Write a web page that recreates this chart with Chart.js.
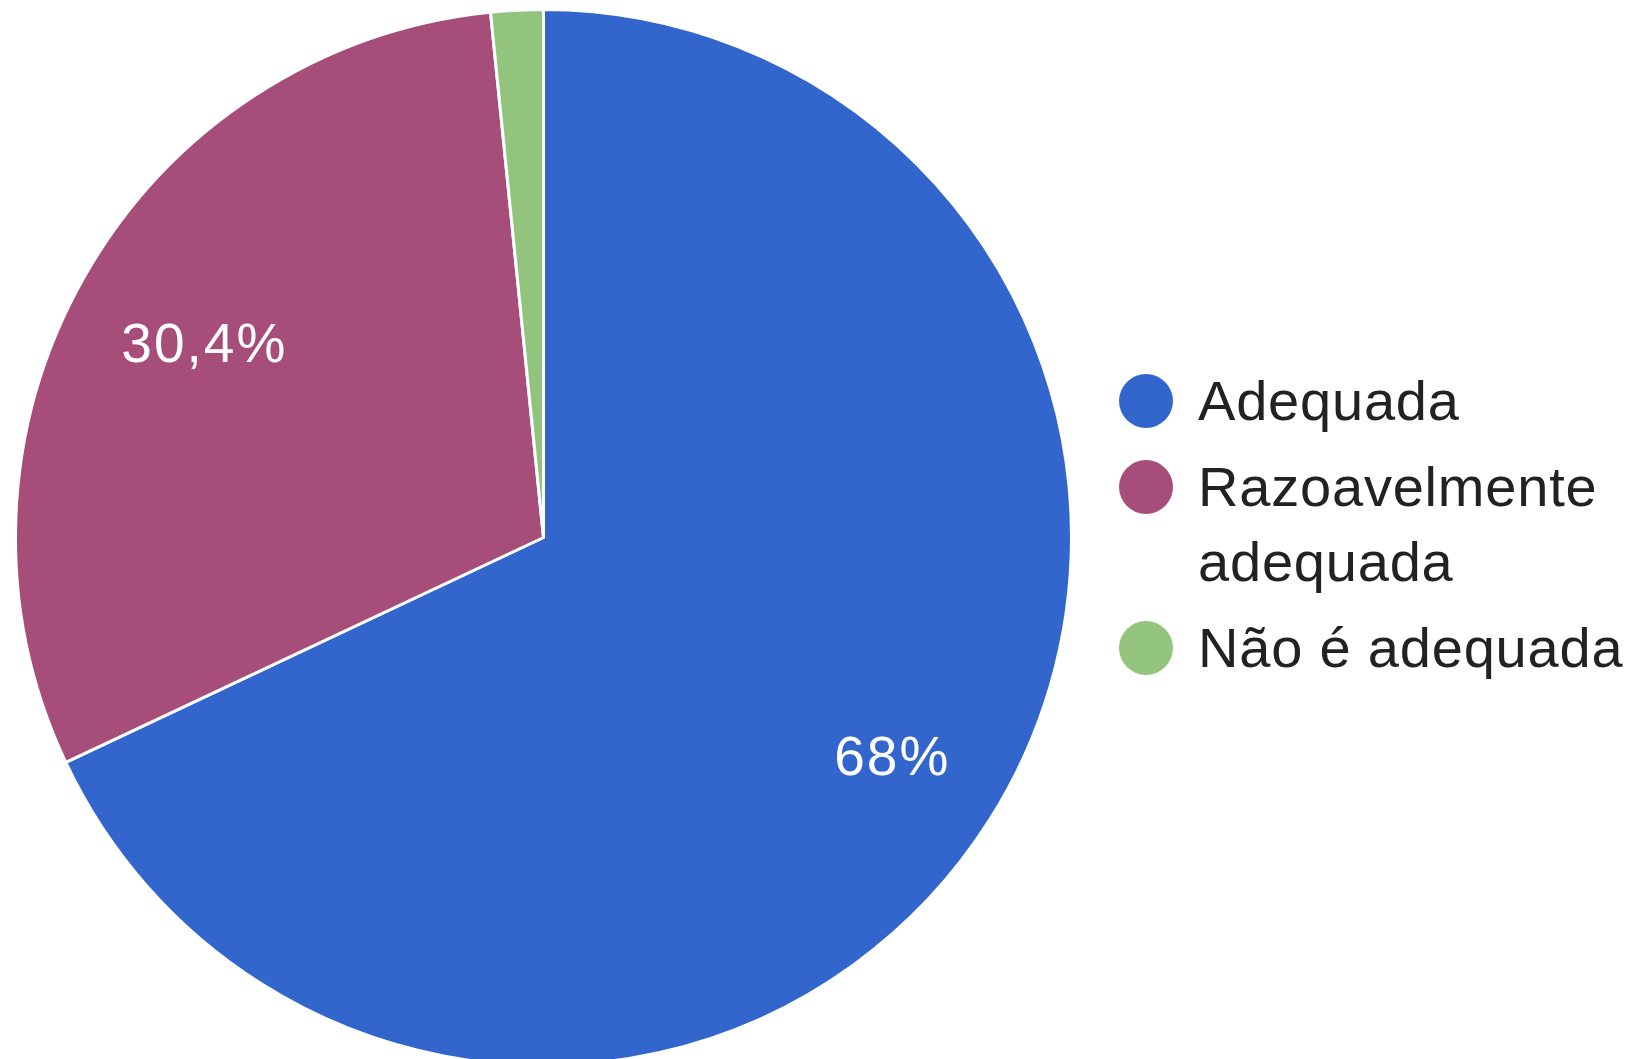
<!DOCTYPE html>
<html>
<head>
<meta charset="utf-8">
<script src="https://cdn.jsdelivr.net/npm/chart.js@4.4.1/dist/chart.umd.min.js"></script>
<style>
  html, body { margin: 0; padding: 0; background: #fff; overflow: hidden; }
  #wrap { width: 1631px; height: 1073px; }
</style>
</head>
<body>
<div id="wrap"><canvas id="pieChart" width="1631" height="1073"></canvas></div>
<script>
// data
const labels = ["Adequada", "Razoavelmente adequada", "Não é adequada"];
const values = [68, 30.4, 1.6];
const colors = ["#3366cc", "#a64d79", "#93c47d"];

const fmtPct = (v) => String(v).replace(".", ",") + "%";

// slice labels drawn inside the slices (google forms style)
const sliceLabels = {
  id: "sliceLabels",
  afterDatasetsDraw(chart) {
    const ctx = chart.ctx;
    const total = values.reduce((a, b) => a + b, 0);
    chart.getDatasetMeta(0).data.forEach((arc, i) => {
      if (values[i] / total < 0.05) return;
      const p = arc.getProps(["x", "y", "startAngle", "endAngle", "outerRadius"], true);
      const mid = (p.startAngle + p.endAngle) / 2;
      const r = p.outerRadius * 0.76;
      ctx.save();
      ctx.fillStyle = "#ffffff";
      ctx.font = "55px 'Liberation Sans', Arial, sans-serif";
      ctx.letterSpacing = "2px";
      ctx.textAlign = "center";
      ctx.textBaseline = "middle";
      // small nudge, google puts the text a bit right/down of the arc point
      ctx.fillText(fmtPct(values[i]), p.x + Math.cos(mid) * r + 10, p.y + Math.sin(mid) * r + 7);
      ctx.restore();
    });
  },
};

// legend on the right, with word wrapping
const sideLegend = {
  id: "sideLegend",
  afterDraw(chart) {
    const ctx = chart.ctx;
    const x0 = 1146, tx = 1198, maxW = 432;
    const lineH = 75, gap = 11;
    let base = 420;
    ctx.save();
    ctx.font = "56px 'Liberation Sans', Arial, sans-serif";
    ctx.letterSpacing = "0.8px";
    ctx.textBaseline = "alphabetic";
    chart.data.labels.forEach((lab, i) => {
      // wrap words
      const lines = [];
      let cur = "";
      lab.split(" ").forEach((w) => {
        const t = cur ? cur + " " + w : w;
        if (ctx.measureText(t).width > maxW && cur) {
          lines.push(cur);
          cur = w;
        } else cur = t;
      });
      lines.push(cur);

      ctx.fillStyle = chart.data.datasets[0].backgroundColor[i];
      ctx.beginPath();
      ctx.arc(x0, base - 19, 27, 0, Math.PI * 2);
      ctx.fill();

      ctx.fillStyle = "#222222";
      lines.forEach((ln, k) => {
        ctx.fillText(ln, tx, base + k * lineH);
      });
      base += lines.length * lineH + gap;
    });
    ctx.restore();
  },
};

new Chart(document.getElementById("pieChart"), {
  type: "pie",
  data: {
    labels: labels,
    datasets: [
      {
        data: values,
        backgroundColor: colors,
        borderColor: "#ffffff",
        borderWidth: 3,
      },
    ],
  },
  options: {
    responsive: false,
    animation: false,
    devicePixelRatio: 1,
    layout: { padding: { left: 14, top: 8, right: 558, bottom: 6 } },
    plugins: {
      legend: { display: false },
      tooltip: { enabled: false },
    },
  },
  plugins: [sliceLabels, sideLegend],
});
</script>
</body>
</html>
